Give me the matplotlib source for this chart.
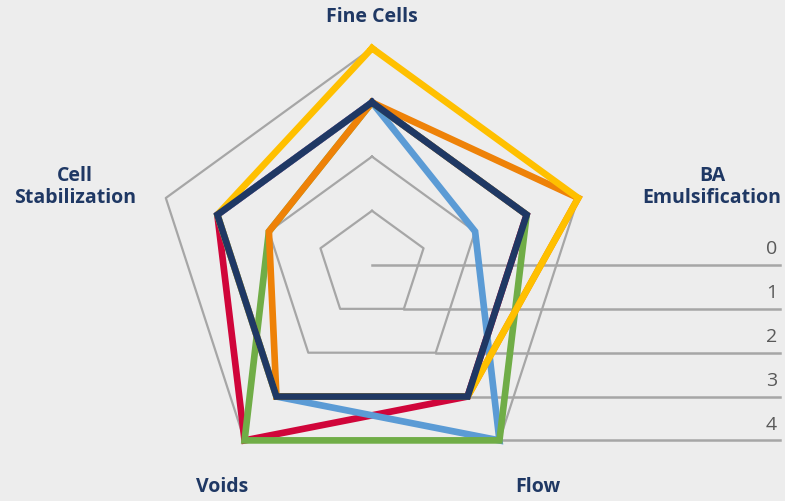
import numpy as np
import matplotlib
matplotlib.use("Agg")
import matplotlib.pyplot as plt

# Data
categories = ["Fine Cells", "BA\nEmulsification", "Flow", "Voids", "Cell\nStabilization"]
levels = [0, 1, 2, 3, 4]

# series drawn bottom -> top
red_vals = [3, 3, 3, 4, 3]
blue_vals = [3, 2, 4, 3, 3]
green_vals = [3, 3, 4, 4, 2]
orange_vals = [3, 4, 3, 3, 2]
yellow_vals = [4, 4, 3, 3, 3]
navy_vals = [3, 3, 3, 3, 3]

series = [
    (red_vals, "#D0053A"),
    (blue_vals, "#5B9BD5"),
    (green_vals, "#70AD47"),
    (orange_vals, "#EE8208"),
    (yellow_vals, "#FFC000"),
    (navy_vals, "#1F3864"),
]

bg = "#EDEDED"
grid_col = "#A6A6A6"
text_col = "#1F3864"

angles = np.deg2rad([90, 18, -54, -126, 162])

def to_xy(vals):
    v = np.array(vals, dtype=float)
    x = v * np.cos(angles)
    y = v * np.sin(angles)
    return np.append(x, x[0]), np.append(y, y[0])

W, H = 785, 501
cx, cy, unit = 372, 265, 54.2

fig = plt.figure(figsize=(W / 100, H / 100), dpi=100, facecolor=bg)
ax = fig.add_axes([0, 0, 1, 1])
ax.set_facecolor(bg)
ax.set_xlim(-cx / unit, (W - cx) / unit)
ax.set_ylim(-(H - cy) / unit, cy / unit)
ax.axis("off")

# grid pentagons
for lv in levels[1:]:
    gx, gy = to_xy([lv] * 5)
    ax.plot(gx, gy, color=grid_col, lw=1.6, zorder=1)

# scale leader lines along the Flow axis
x_end = (780 - cx) / unit
for lv in levels:
    fx = lv * np.cos(angles[2])
    fy = lv * np.sin(angles[2])
    ax.plot([fx, x_end], [fy, fy], color=grid_col, lw=1.8, zorder=1)
    ax.text((777 - cx) / unit, fy + 0.12, str(lv), ha="right", va="bottom",
            fontsize=14, color="#595959", family="Open Sans")

# data series
for i, (vals, col) in enumerate(series):
    sx, sy = to_xy(vals)
    ax.plot(sx, sy, color=col, lw=4.8, solid_joinstyle="miter", zorder=2 + i)

# category labels (pixel positions converted)
label_pos = [(372, 17), (712, 187), (538, 487), (222, 487), (75, 187)]
for name, (px, py) in zip(categories, label_pos):
    ax.text((px - cx) / unit, (cy - py) / unit, name, ha="center", va="center",
            fontsize=14, fontweight="bold", color=text_col, family="Open Sans",
            linespacing=1.1)

fig.savefig("out.png", dpi=100, facecolor=bg)
